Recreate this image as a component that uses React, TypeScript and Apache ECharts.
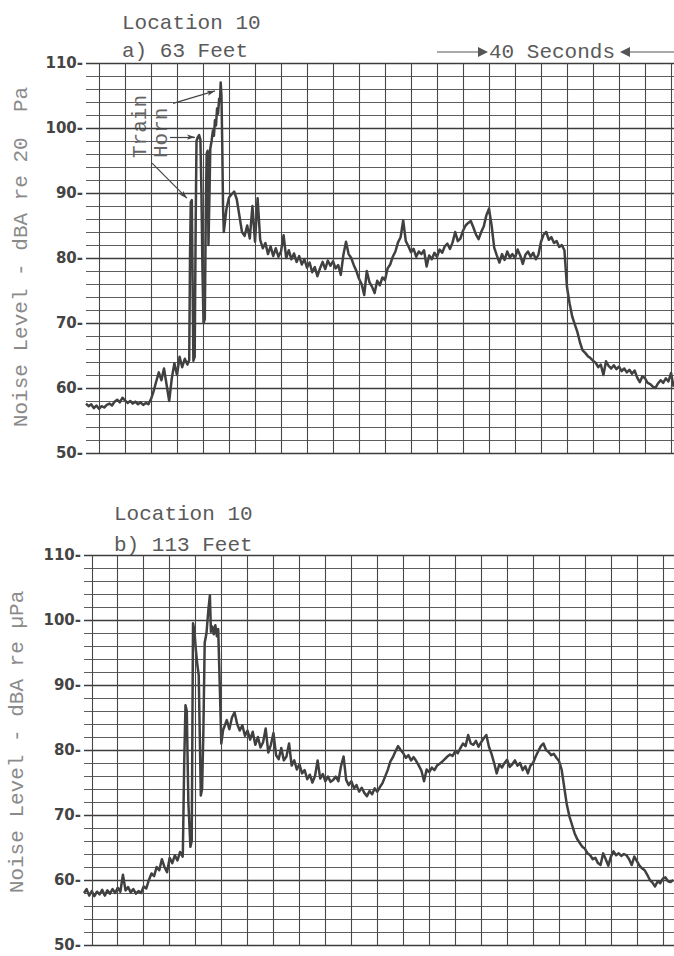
import React, { useEffect, useRef } from "react";
import * as echarts from "echarts";

// ---------- data (time in tenths of a chart-paper division, level in dBA) ----------
const Y_MIN = 50;
const Y_MAX = 110;
const Y_STEP = 10;
const PAPER_DIVISIONS = [0, 10, 20, 30, 40, 50, 60, 70, 80, 90, 100, 110, 120, 130, 140, 150, 160, 170, 180, 190, 200, 210, 220];

// a) 63 Feet
const A_AMBIENT_START = -5;
const A_AMBIENT = [
  57.6, 57.2, 57.5, 56.9, 57.3, 56.8, 57.2, 57.0, 57.4, 57.6, 57.3, 57.9, 58.2, 57.8, 58.5, 58.1,
  57.7, 58.0, 57.6, 57.9, 57.5, 57.8, 57.4, 57.7, 57.5, 58.3, 59.5, 61.0, 62.4, 61.2, 63.0, 60.5,
  58.0, 61.5, 63.8, 62.0, 64.8, 63.2, 64.5, 63.6,
];
const A_HORN = [
  [34.4, 64.0], [34.7, 64.3], [35.0, 80.0], [35.3, 88.6], [35.7, 88.9], [36.0, 76.0], [36.3, 64.2],
  [36.8, 64.8], [37.2, 86.0], [37.5, 98.0], [38.0, 98.6], [38.5, 98.9], [39.0, 98.2], [39.4, 90.0],
  [39.8, 78.0], [40.2, 70.0], [40.7, 70.6], [41.1, 88.0], [41.4, 96.0], [41.8, 96.5], [42.1, 82.0],
  [42.5, 90.0], [42.8, 96.8], [43.3, 98.0], [43.8, 99.6], [44.2, 98.8], [44.6, 101.2], [45.0, 100.4],
  [45.4, 103.0], [45.8, 102.2], [46.2, 104.5], [46.5, 104.0], [46.8, 107.0], [47.1, 105.0],
  [47.4, 97.5], [47.7, 88.0],
];
const A_PASSBY_START = 48;
const A_PASSBY = [
  84.0, 87.5, 89.3, 89.8, 90.2, 89.0, 86.5, 84.0, 83.4, 85.0, 83.0, 88.0, 82.5, 89.2, 82.8, 81.5,
  82.3, 80.6, 81.8, 80.3, 81.5, 80.2, 81.0, 83.5, 80.0, 81.2, 79.8, 80.7, 79.4, 80.3, 79.0, 79.8,
  78.5, 79.3, 77.8, 78.6, 77.2, 78.4, 79.4, 78.3, 79.6, 78.8, 79.5, 78.4, 78.9, 77.4, 80.5, 82.5,
  80.6, 80.0, 78.9, 78.0, 76.8, 76.0, 74.3, 78.0, 76.3, 75.6, 74.6, 76.5, 75.8, 77.0, 76.6, 78.4,
  79.0, 80.2, 81.0, 82.4, 83.2, 85.8, 82.6, 81.8, 80.9, 81.4, 80.2, 81.0, 80.6, 81.2, 78.7, 80.4,
  79.8, 80.8, 80.2, 81.3, 80.8, 81.8, 82.2, 81.4, 82.4, 84.0, 82.6, 83.0, 84.2, 85.0, 85.4, 85.7,
  84.7, 83.6, 82.9, 84.0, 84.9, 86.6, 87.6, 85.0, 81.6, 80.4, 79.3, 80.6, 79.7, 81.0, 80.1, 80.6,
  80.0, 81.3, 80.4, 79.1, 80.5, 81.0, 80.2, 80.8, 79.8, 80.5, 82.5, 83.6, 84.0, 82.8, 83.2, 82.3,
  82.6, 81.7, 82.0, 81.2, 75.5, 73.0, 71.0, 69.8, 68.6, 67.0, 65.8, 65.4, 64.9, 64.6, 64.2, 63.9,
  63.2, 63.6, 62.0, 64.1, 63.4, 63.0, 63.5, 62.9, 63.3, 62.6, 63.0, 62.4, 62.8, 62.2, 62.7, 61.6,
  60.9, 61.8, 61.5, 60.8, 60.6, 60.2, 60.0, 60.7, 61.2, 60.8, 61.5, 61.0, 62.3, 60.2,
];

// b) 113 Feet
const B_AMBIENT_START = -3;
const B_AMBIENT = [
  58.0, 58.6, 57.6, 58.3, 57.5, 58.2, 57.8, 58.5, 57.6, 58.4, 57.9, 58.6, 58.0, 58.8, 58.2, 60.8,
  58.4, 58.9, 58.1, 58.6, 57.9, 58.3, 58.0, 59.0, 58.7, 60.0, 61.0, 60.6, 62.0, 61.5, 63.2, 62.0,
  61.2, 63.4, 62.6, 63.8, 63.0, 64.3, 63.6,
];
const B_HORN = [
  [35.1, 64.6], [35.6, 78.0], [36.1, 86.9], [36.6, 86.0], [37.2, 72.0], [38.0, 65.1], [38.5, 66.0],
  [39.0, 99.5], [39.5, 98.5], [40.1, 95.4], [40.7, 93.0], [41.2, 91.5], [41.7, 80.0], [42.0, 73.0],
  [42.5, 74.0], [43.0, 83.1], [43.5, 96.5], [44.2, 98.0], [44.9, 101.5], [45.5, 103.8], [45.9, 98.2],
  [46.4, 99.0], [47.0, 97.8], [47.6, 99.2], [48.2, 97.5], [48.7, 98.6], [49.3, 90.0], [49.9, 81.0],
  [50.6, 83.1],
];
const B_PASSBY_START = 51;
const B_PASSBY = [
  83.5, 84.6, 83.2, 85.0, 85.8, 84.0, 83.0, 83.8, 82.2, 83.0, 81.6, 82.8, 80.8, 82.0, 80.4, 81.2,
  83.3, 79.6, 80.8, 82.6, 79.2, 78.6, 80.3, 78.4, 79.0, 81.0, 77.6, 78.4, 77.0, 77.8, 76.4, 76.9,
  75.5, 76.2, 75.0, 76.0, 78.4, 75.6, 76.3, 75.2, 75.9, 75.1, 75.4, 75.9, 75.2, 77.5, 79.0, 75.4,
  74.6, 75.2, 74.1, 74.6, 73.6, 74.2, 73.4, 72.9, 73.7, 73.2, 74.1, 73.6, 74.3, 74.9, 75.9, 76.9,
  78.2, 78.9, 79.8, 80.6, 80.0, 79.5, 78.8, 79.2, 78.4, 78.9, 78.3, 77.6, 76.8, 75.2, 77.0, 76.6,
  77.3, 76.9, 77.6, 77.9, 78.2, 78.6, 79.0, 79.3, 79.1, 79.8, 79.5, 80.3, 81.0, 80.6, 82.3, 81.0,
  80.8, 81.4, 80.5, 81.2, 81.8, 82.3, 80.5, 79.4, 78.0, 76.4, 77.8, 77.3, 78.0, 78.5, 77.4, 77.8,
  78.4, 77.6, 78.0, 76.9, 77.5, 76.4, 77.6, 78.0, 79.0, 79.8, 80.6, 81.0, 80.0, 79.7, 79.2, 79.4,
  78.8, 78.3, 77.0, 74.3, 71.6, 69.8, 68.5, 67.2, 66.3, 65.7, 65.1, 64.8, 64.1, 63.8, 63.2, 63.4,
  62.6, 62.3, 64.1, 63.2, 62.2, 63.6, 64.4, 63.8, 64.1, 63.7, 64.0, 63.8, 63.2, 62.3, 63.6, 62.9,
  62.2, 61.8, 61.5, 60.8, 60.0, 59.6, 59.0, 59.8, 59.5, 60.2, 60.4, 59.8, 59.7, 60.0,
];

// "Train Horn" arrows (tail -> head), in [time, dBA]
const HORN_ARROWS = [
  [[28.5, 103.8], [44.6, 105.7]],
  [[27.3, 98.6], [36.9, 98.6]],
  [[20.4, 94.6], [33.8, 89.2]],
];

const TYPE_FONT = "'Liberation Mono', 'DejaVu Sans Mono', monospace";
const TICK_FONT = "'DejaVu Sans', sans-serif";

const seq = (start: number, vals: number[]) => vals.map((v, i) => [start + i, v]);

export default function App() {
  const ref = useRef<HTMLDivElement>(null);

  useEffect(() => {
    if (!ref.current) return;
    const chart = echarts.init(ref.current, undefined, { renderer: "svg" });

    const aData = [...seq(A_AMBIENT_START, A_AMBIENT), ...A_HORN, ...seq(A_PASSBY_START, A_PASSBY)];
    const bData = [...seq(B_AMBIENT_START, B_AMBIENT), ...B_HORN, ...seq(B_PASSBY_START, B_PASSBY)];

    const grids = [
      { left: 86, top: 63, width: 588, height: 390 },
      { left: 84, top: 555, width: 590, height: 390 },
    ];

    const xAxis = [
      { gridIndex: 0, type: "value", min: -5, max: 221.15 },
      { gridIndex: 1, type: "value", min: -3, max: 224.3 },
    ].map((a) => ({
      ...a,
      axisLine: { show: false },
      axisTick: { show: false },
      axisLabel: { show: false },
      splitLine: { show: false },
    }));

    const yAxis = [0, 1].map((g) => ({
      gridIndex: g,
      type: "value",
      min: Y_MIN,
      max: Y_MAX,
      interval: Y_STEP,
      axisLine: { show: false },
      axisTick: { show: false },
      axisLabel: {
        formatter: (v: number) => `${v}-`,
        margin: 3,
        fontFamily: TICK_FONT,
        fontWeight: "bold",
        fontSize: 15,
        color: "#444",
      },
      splitLine: { show: true, lineStyle: { color: "#3c3c3c", width: 1.3 } },
      minorTick: { show: false, splitNumber: 5 },
      minorSplitLine: { show: true, lineStyle: { color: "#5e5e5e", width: 1 } },
    }));

    const paperLines = (g: number) => ({
      type: "line",
      xAxisIndex: g,
      yAxisIndex: g,
      data: [],
      silent: true,
      z: 1,
      markLine: {
        silent: true,
        symbol: ["none", "none"],
        label: { show: false },
        lineStyle: { color: "#474747", width: 1.1, type: "solid" },
        data: PAPER_DIVISIONS.map((v) => ({ xAxis: v })),
      },
    });

    const trace = (g: number, data: number[][]) => ({
      type: "line",
      xAxisIndex: g,
      yAxisIndex: g,
      data,
      showSymbol: false,
      symbol: "none",
      z: 3,
      lineStyle: { color: "#404040", width: 2.5, join: "round" },
    });

    const aTrace: any = trace(0, aData);
    aTrace.markLine = {
      silent: true,
      symbol: ["none", "arrow"],
      symbolSize: [4, 8],
      label: { show: false },
      lineStyle: { color: "#444", width: 1.2, type: "solid" },
      data: HORN_ARROWS.map(([s, e]) => [{ coord: s }, { coord: e }]),
    };

    const typeText = (text: string, x: number, y: number, extra: any = {}) => ({
      type: "text",
      x,
      y,
      silent: true,
      ...extra,
      style: {
        text,
        fill: extra.fill || "#5a5a5a",
        font: `${extra.size || 21}px ${TYPE_FONT}`,
        align: extra.align || "left",
        verticalAlign: "middle",
      },
    });

    const graphic = [
      typeText("Location 10", 122, 23),
      typeText("a) 63 Feet", 122, 51),
      typeText("Location 10", 114, 514),
      typeText("b) 113 Feet", 114, 545),
      typeText("Noise Level - dBA re 20  Pa", 21, 257, { rotation: Math.PI / 2, align: "center", fill: "#8a8a8a" }),
      typeText("Noise Level - dBA re µPa", 17, 742, { rotation: Math.PI / 2, align: "center", fill: "#8a8a8a" }),
      typeText("Train", 140, 158, { rotation: Math.PI / 2, align: "left", fill: "#666" }),
      typeText("Horn", 161, 158, { rotation: Math.PI / 2, align: "left", fill: "#666" }),
      // 40 Seconds dimension mark
      { type: "line", silent: true, shape: { x1: 437, y1: 52, x2: 480, y2: 52 }, style: { stroke: "#555", lineWidth: 1.2 } },
      { type: "polygon", silent: true, shape: { points: [[478, 47], [488, 52], [478, 57]] }, style: { fill: "#555" } },
      typeText("40 Seconds", 489, 52, { fill: "#5a5a5a" }),
      { type: "polygon", silent: true, shape: { points: [[630, 47], [620, 52], [630, 57]] }, style: { fill: "#555" } },
      { type: "line", silent: true, shape: { x1: 628, y1: 52, x2: 674, y2: 52 }, style: { stroke: "#555", lineWidth: 1.2 } },
    ];

    chart.setOption({
      animation: false,
      backgroundColor: "#ffffff",
      grid: grids,
      xAxis,
      yAxis,
      series: [paperLines(0), paperLines(1), aTrace, trace(1, bData)],
      graphic,
    });

    return () => chart.dispose();
  }, []);

  return (
    <div
      ref={ref}
      style={{ position: "absolute", left: 0, top: 0, width: 674, height: 956, background: "#fff" }}
    />
  );
}
